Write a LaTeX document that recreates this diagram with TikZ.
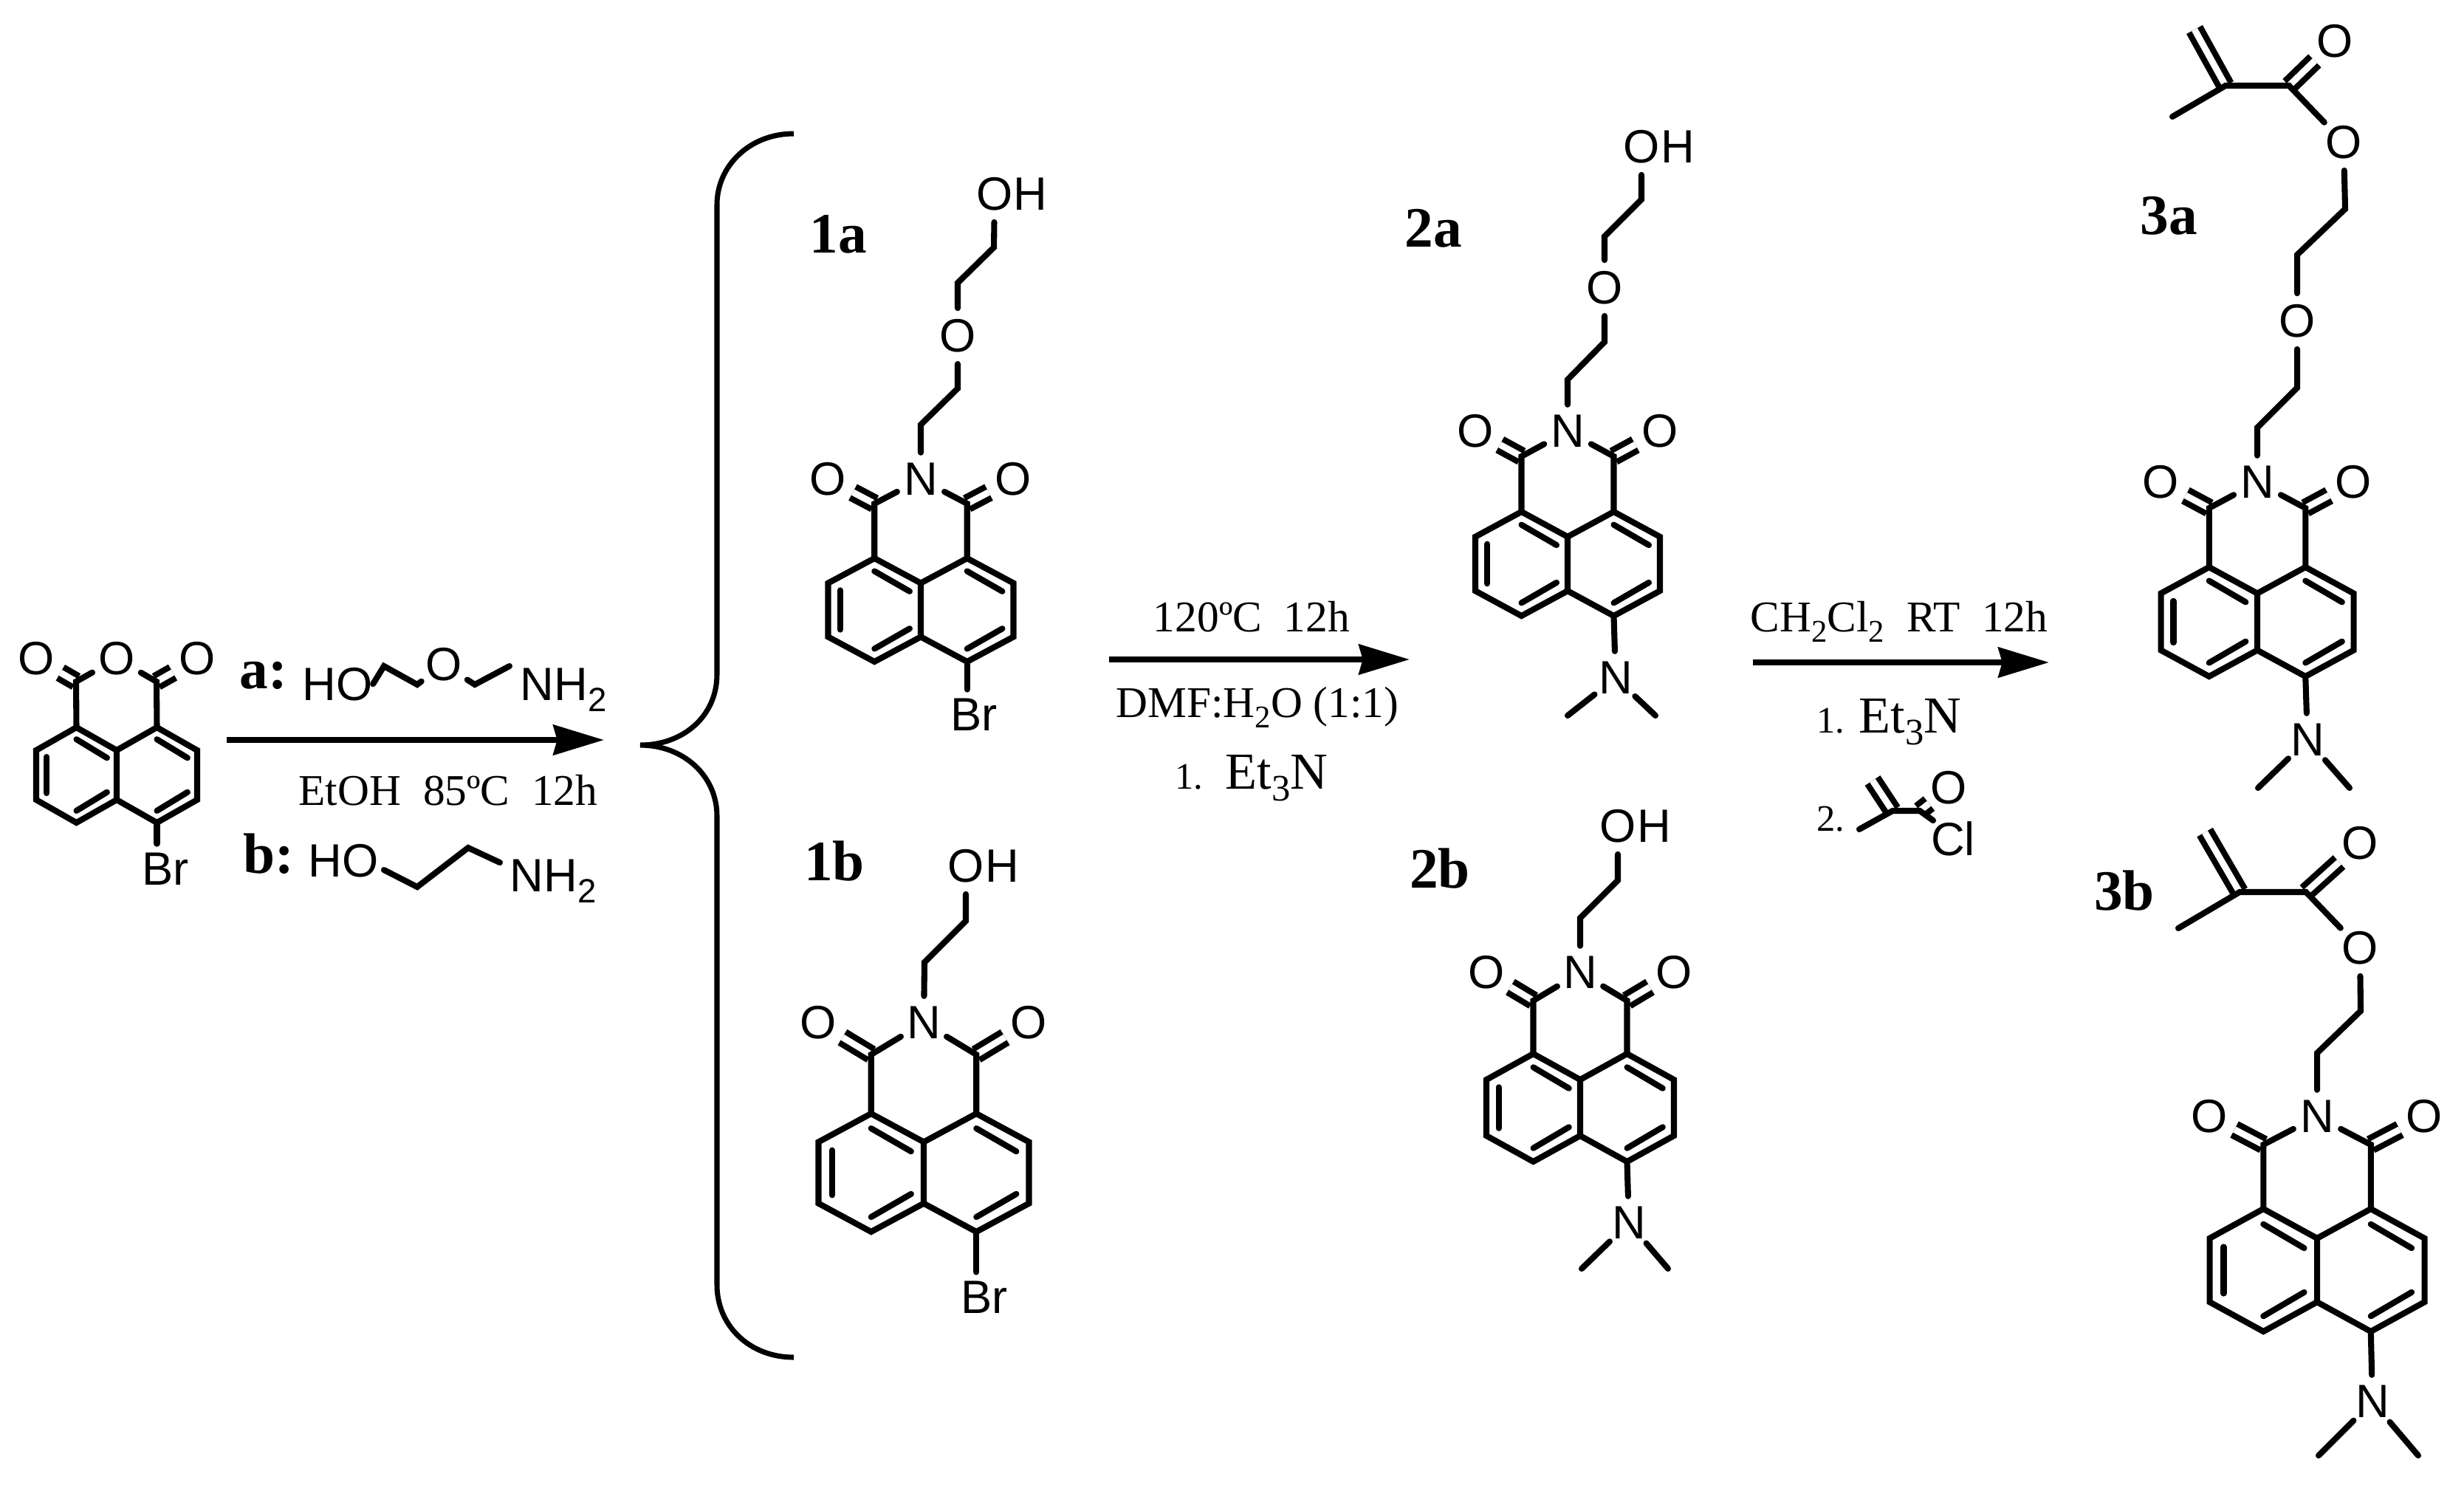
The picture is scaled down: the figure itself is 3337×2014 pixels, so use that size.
\documentclass[tikz,border=0pt]{standalone}
\usepackage{fontspec}
\setmainfont{Liberation Serif}
\setsansfont{Liberation Sans}
\usetikzlibrary{arrows.meta}

\newcommand{\subtxt}[1]{\raisebox{-.24em}{\scalebox{.72}{#1}}}

\tikzset{
    bond/.style={line width=2.3pt, line join=miter, line cap=round},
    dbond/.style={line width=2.3pt, double, double distance=2.5pt},
    rxn/.style={line width=2.4pt, -{Stealth[length=19.5pt, width=11.5pt, inset=1.5pt]}},
    atom/.style={circle, inner sep=.8pt, font=\fontsize{18}{20}\selectfont\sffamily},
    subst/.style={inner sep=3.4pt, font=\fontsize{18}{20}\selectfont\sffamily},
    reagent/.style={anchor=base, inner sep=0pt, font=\fontsize{18}{20}\selectfont\sffamily},
    cond/.style={anchor=base, inner sep=0pt, font=\fontsize{16.9}{20}\selectfont},
    stepnum/.style={anchor=base, inner sep=0pt, font=\fontsize{14.4}{18}\selectfont},
    amine/.style={anchor=base, inner sep=0pt, font=\fontsize{20}{24}\selectfont},
    cpd/.style={anchor=base, inner sep=0pt, font=\fontsize{22}{26}\selectfont\bfseries}
}

% name, centre x, half width, top y, height
\newcommand{\naphcore}[5]{
    \begin{scope}[shift={(#2,#4)}, xscale=#3, yscale=#5]
        \coordinate (#1-a) at (-.5,0);
        \coordinate (#1-b) at (-1,.24);
        \coordinate (#1-c) at (-1,.76);
        \coordinate (#1-d) at (-.5,1);
        \coordinate (#1-e) at (0,.76);
        \coordinate (#1-f) at (0,.24);
        \coordinate (#1-g) at (.5,0);
        \coordinate (#1-h) at (1,.24);
        \coordinate (#1-i) at (1,.76);
        \coordinate (#1-j) at (.5,1);
        \foreach \ax/\ay/\bx/\by in {-.5/.125/-.12/.32, -.87/.31/-.87/.69, -.5/.875/-.12/.68,
                                     .5/.125/.88/.32, .5/.875/.88/.68}
            \draw[bond] (\ax,\ay) -- (\bx,\by);
    \end{scope}
    \draw[bond] (#1-a) -- (#1-b) -- (#1-c) -- (#1-d) -- (#1-e) -- (#1-f) -- cycle;
    \draw[bond] (#1-f) -- (#1-g) -- (#1-h) -- (#1-i) -- (#1-j) -- (#1-e);
}

% name, y of the carbonyl carbons, y of N and O
\newcommand{\imide}[3]{
    \coordinate (#1-cl) at (#1-a |- 0,#2);
    \coordinate (#1-cr) at (#1-g |- 0,#2);
    \node[atom] (#1-n) at (#1-f |- 0,#3) {N};
    \node[atom] (#1-ol) at (#1-b |- 0,#3) {O};
    \node[atom] (#1-or) at (#1-h |- 0,#3) {O};
    \draw[dbond] (#1-cl) -- (#1-ol);
    \draw[dbond] (#1-cr) -- (#1-or);
    \draw[bond] (#1-a) -- (#1-cl) -- (#1-n);
    \draw[bond] (#1-g) -- (#1-cr) -- (#1-n);
}

% name, N x, N y, left methyl x, right methyl x, methyl y
\newcommand{\dimethyl}[6]{
    \node[atom] (#1-m) at (#2,#3) {N};
    \coordinate (#1-mel) at (#4,#6);
    \coordinate (#1-mer) at (#5,#6);
    \draw[bond] (#1-j) -- (#1-m);
    \draw[bond] (#1-m) -- (#1-mel);
    \draw[bond] (#1-m) -- (#1-mer);
}

\begin{document}
\begin{tikzpicture}[x=0.01cm, y=-0.01cm]
    \useasboundingbox (0,0) rectangle (3337,2014);

    \naphcore{an}{158}{109}{985}{129}
    \coordinate (an-cl) at (103,923);
    \coordinate (an-cr) at (212,923);
    \node[atom] (an-ol) at (49,892) {O};
    \node[atom] (an-om) at (158,892) {O};
    \node[atom] (an-or) at (267,892) {O};
    \node[subst] (an-br) at (224,1177) {Br};
    \draw[dbond] (an-cl) -- (an-ol);
    \draw[dbond] (an-cr) -- (an-or);
    \draw[bond] (an-a) -- (an-cl) -- (an-om) -- (an-cr) -- (an-g);
    \draw[bond] (an-j) -- (an-j |- an-br.north);

    \node[cpd] (lba) at (357,932) {a:};
    \node[reagent] (ra-ho) at (457,948) {HO};
    \coordinate (ra-c1) at (520,902);
    \coordinate (ra-c2) at (565,927);
    \node[atom] (ra-o) at (601,900) {O};
    \coordinate (ra-c3) at (643,927);
    \coordinate (ra-c4) at (690,902);
    \node[reagent] (ra-nh) at (763,948) {NH\subtxt{2}};
    \draw[bond] (ra-ho.east) -- (ra-c1) -- (ra-c2) -- (ra-o);
    \draw[bond] (ra-o) -- (ra-c3) -- (ra-c4);

    \coordinate (r1s) at (307,1002);
    \coordinate (r1e) at (818,1002);
    \draw[rxn] (r1s) -- (r1e);
    \node[cond] (r1t) at (607,1090) {EtOH~~85ºC~~12h};

    \node[cpd] (lbb) at (364,1182) {b:};
    \node[reagent] (rb-ho) at (465,1187) {HO};
    \coordinate (rb-c1) at (520,1178);
    \coordinate (rb-c2) at (565,1201);
    \coordinate (rb-c3) at (634,1148);
    \coordinate (rb-c4) at (677,1168);
    \node[reagent] (rb-nh) at (749,1207) {NH\subtxt{2}};
    \draw[bond] (rb-c1) -- (rb-c2) -- (rb-c3) -- (rb-c4);

    \draw[line width=2pt] (1075,181) .. controls (1015,181) and (971,225) .. (971,277)
        -- (971,913) .. controls (971,970) and (925,1009) .. (867,1009)
        .. controls (925,1009) and (971,1050) .. (971,1105)
        -- (971,1740) .. controls (971,1795) and (1015,1838) .. (1075,1838);

    \node[cpd] (lb1a) at (1135,342) {1a};
    \naphcore{1a}{1247}{125.5}{756}{140}
    \imide{1a}{682}{649}
    \node[subst] (1a-br) at (1319,968) {Br};
    \draw[bond] (1a-j) -- (1a-j |- 1a-br.north);
    \coordinate (1a-c1) at (1247,575);
    \coordinate (1a-c2) at (1297,526);
    \node[atom] (1a-o1) at (1297,455) {O};
    \coordinate (1a-c3) at (1297,383);
    \coordinate (1a-c4) at (1346,335);
    \node[atom] (1a-o2) at (1347,263) {O};
    \node[atom] (1a-h) at (1395,263) {H};
    \draw[bond] (1a-n) -- (1a-c1) -- (1a-c2) -- (1a-o1);
    \draw[bond] (1a-o1) -- (1a-c3) -- (1a-c4) -- (1a-o2);

    \node[cpd] (lb1b) at (1130,1192) {1b};
    \naphcore{1b}{1251}{142.5}{1508}{160}
    \imide{1b}{1428}{1385}
    \node[subst] (1b-br) at (1333,1757) {Br};
    \draw[bond] (1b-j) -- (1b-j |- 1b-br.north);
    \coordinate (1b-c1) at (1252,1303);
    \coordinate (1b-c2) at (1308,1247);
    \node[atom] (1b-o2) at (1308,1173) {O};
    \node[atom] (1b-h) at (1357,1173) {H};
    \draw[bond] (1b-n) -- (1b-c1) -- (1b-c2) -- (1b-o2);

    \coordinate (r2s) at (1502,893);
    \coordinate (r2e) at (1909,893);
    \draw[rxn] (r2s) -- (r2e);
    \node[cond] (r2t) at (1695,855) {120ºC~~12h};
    \node[cond] (r2b) at (1703,971) {DMF:H\subtxt{2}O (1:1)};
    \node[stepnum] (r2n) at (1610,1068) {1.};
    \node[amine] (r2e3) at (1729,1068) {Et\subtxt{3}N};

    \node[cpd] (lb2a) at (1941,334) {2a};
    \naphcore{2a}{2123}{125}{693}{141}
    \imide{2a}{618}{584}
    \dimethyl{2a}{2188}{918}{2123}{2242}{969}
    \coordinate (2a-c1) at (2123,514);
    \coordinate (2a-c2) at (2173,463);
    \node[atom] (2a-o1) at (2173,390) {O};
    \coordinate (2a-c3) at (2173,320);
    \coordinate (2a-c4) at (2223,270);
    \node[atom] (2a-o2) at (2223,199) {O};
    \node[atom] (2a-h) at (2272,199) {H};
    \draw[bond] (2a-n) -- (2a-c1) -- (2a-c2) -- (2a-o1);
    \draw[bond] (2a-o1) -- (2a-c3) -- (2a-c4) -- (2a-o2);

    \node[cpd] (lb2b) at (1950,1202) {2b};
    \naphcore{2b}{2140}{127}{1427}{146}
    \imide{2b}{1355}{1317}
    \dimethyl{2b}{2206}{1656}{2142}{2259}{1718}
    \coordinate (2b-c1) at (2140,1243);
    \coordinate (2b-c2) at (2191,1192);
    \node[atom] (2b-o2) at (2191,1119) {O};
    \node[atom] (2b-h) at (2240,1119) {H};
    \draw[bond] (2b-n) -- (2b-c1) -- (2b-c2) -- (2b-o2);

    \coordinate (r3s) at (2374,897);
    \coordinate (r3e) at (2775,897);
    \draw[rxn] (r3s) -- (r3e);
    \node[cond] (r3t) at (2572,855) {CH\subtxt{2}Cl\subtxt{2}~~RT~~12h};
    \node[stepnum] (r3n1) at (2479,992) {1.};
    \node[amine] (r3e3) at (2587,992) {Et\subtxt{3}N};
    \node[stepnum] (r3n2) at (2479,1125) {2.};
    \coordinate (ac-me) at (2518,1123);
    \coordinate (ac-c1) at (2563,1098);
    \coordinate (ac-ch) at (2536,1057);
    \coordinate (ac-c2) at (2600,1098);
    \coordinate (ac-x) at (2618,1111);
    \node[circle, inner sep=0pt, font=\fontsize{18}{20}\selectfont\sffamily] (ac-o) at (2639,1067) {O};
    \node[reagent] (ac-cl) at (2645,1158) {Cl};
    \draw[dbond] (ac-c1) -- (ac-ch);
    \draw[dbond] (ac-c2) -- (ac-o);
    \draw[bond] (ac-me) -- (ac-c1) -- (ac-c2) -- (ac-x);

    \node[cpd] (lb3a) at (2937,317) {3a};
    \naphcore{3a}{3057}{130.5}{768}{148}
    \imide{3a}{688}{653}
    \dimethyl{3a}{3125}{1002}{3058}{3182}{1067}
    \coordinate (3a-c1) at (3057,579);
    \coordinate (3a-c2) at (3111,525);
    \node[atom] (3a-o1) at (3111,435) {O};
    \coordinate (3a-c3) at (3111,345);
    \coordinate (3a-c4) at (3176,283);
    \node[atom] (3a-o2) at (3174,193) {O};
    \coordinate (3a-c5) at (3100,116);
    \node[atom] (3a-o3) at (3162,56) {O};
    \coordinate (3a-c6) at (3014,116);
    \coordinate (3a-ch) at (2972,40);
    \coordinate (3a-me) at (2942,158);
    \draw[bond] (3a-n) -- (3a-c1) -- (3a-c2) -- (3a-o1);
    \draw[bond] (3a-o1) -- (3a-c3) -- (3a-c4) -- (3a-o2);
    \draw[dbond] (3a-c5) -- (3a-o3);
    \draw[dbond] (3a-c6) -- (3a-ch);
    \draw[bond] (3a-o2) -- (3a-c5) -- (3a-c6) -- (3a-me);

    \node[cpd] (lb3b) at (2877,1232) {3b};
    \naphcore{3b}{3138}{145.5}{1637}{166}
    \imide{3b}{1550}{1512}
    \dimethyl{3b}{3213}{1898}{3140}{3275}{1971}
    \coordinate (3b-c1) at (3138,1426);
    \coordinate (3b-c2) at (3197,1369);
    \node[atom] (3b-o2) at (3196,1284) {O};
    \coordinate (3b-c5) at (3123,1208);
    \node[atom] (3b-o3) at (3196,1142) {O};
    \coordinate (3b-c6) at (3033,1208);
    \coordinate (3b-ch) at (2986,1127);
    \coordinate (3b-me) at (2950,1257);
    \draw[bond] (3b-n) -- (3b-c1) -- (3b-c2) -- (3b-o2);
    \draw[dbond] (3b-c5) -- (3b-o3);
    \draw[dbond] (3b-c6) -- (3b-ch);
    \draw[bond] (3b-o2) -- (3b-c5) -- (3b-c6) -- (3b-me);
\end{tikzpicture}
\end{document}
